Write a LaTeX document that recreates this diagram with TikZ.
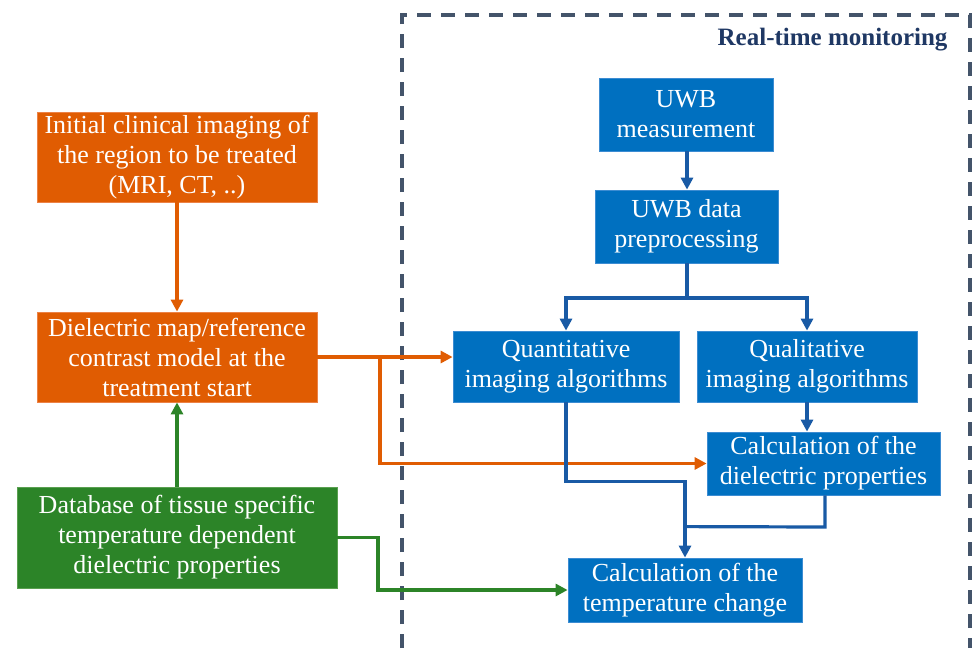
\documentclass[tikz,border=0pt]{standalone}
\usepackage{fontspec}
\setmainfont{Liberation Serif}
\usetikzlibrary{arrows.meta,calc}
\definecolor{ora}{RGB}{224,92,2}
\definecolor{oraedge}{RGB}{236,130,70}
\definecolor{blu}{RGB}{0,112,192}
\definecolor{bluedge}{RGB}{60,140,210}
\definecolor{blline}{RGB}{25,90,165}
\definecolor{grn}{RGB}{44,132,40}
\definecolor{grnedge}{RGB}{90,160,80}
\definecolor{dashcol}{RGB}{68,84,106}
\definecolor{ttl}{RGB}{31,56,100}
\tikzset{
  box/.style={rectangle, inner sep=0pt, align=center, text=white, line width=0.8pt,
    font=\fontsize{26}{30}\selectfont},
  obox/.style={box, fill=ora, draw=oraedge},
  bbox/.style={box, fill=blu, draw=bluedge},
  gbox/.style={box, fill=grn, draw=grnedge},
  conn/.style={line width=3.2pt, -{Triangle[length=12pt,width=12pt]}},
  connn/.style={line width=3.2pt},
}
\begin{document}
\begin{tikzpicture}[x=1pt,y=-1pt]
\useasboundingbox (0,0) rectangle (973,648);
% dashed region
\draw[dashcol, line width=4pt, dash pattern=on 14pt off 10pt] (402,648) -- (402,15) -- (970,15) -- (970,648);
\node[anchor=east, text=ttl, font=\fontsize{25}{28}\selectfont\bfseries] (title) at (951,40) {Real-time monitoring};

% nodes
\node[obox, minimum width=280, minimum height=90] (init) at (177,157) {Initial clinical imaging of\\the region to be treated\\(MRI, CT, ..)};
\node[obox, minimum width=280, minimum height=90] (dmap) at (177,357) {Dielectric map/reference\\contrast model at the\\treatment start};
\node[gbox, minimum width=320, minimum height=101] (db) at (177,537.5) {Database of tissue specific\\temperature dependent\\dielectric properties};
\node[bbox, minimum width=174, minimum height=73] (meas) at (686,114.5) {UWB\\measurement};
\node[bbox, minimum width=183, minimum height=73] (prep) at (686.5,226.5) {UWB data\\preprocessing};
\node[bbox, minimum width=226, minimum height=71] (quant) at (566,366.5) {Quantitative\\imaging algorithms};
\node[bbox, minimum width=220, minimum height=71] (qual) at (807,366.5) {Qualitative\\imaging algorithms};
\node[bbox, minimum width=233, minimum height=63] (cdiel) at (823.5,463.5) {Calculation of the\\dielectric properties};
\node[bbox, minimum width=234, minimum height=64] (ctemp) at (685,590) {Calculation of the\\temperature change};

% orange connectors
\draw[conn, ora] (init.south) -- (dmap.north);
\draw[conn, ora] (dmap.east |- 0,357) -- (quant.west |- 0,357);
\draw[conn, ora] (dmap.east |- 0,357) -- (380,357) |- (cdiel.west);
% green connectors
\draw[conn, grn] (db.north) -- (dmap.south);
\draw[conn, grn] (db.east) -- (378,537.5) |- (ctemp.west);
% blue connectors
\draw[conn, blline] (meas.south -| 687,0) -- (prep.north -| 687,0);
\coordinate (split) at (687,298);
\draw[connn, blline] (prep.south -| 687,0) -- (split);
\draw[conn, blline] (split) -| (quant.north);
\draw[conn, blline] (split) -| (qual.north);
\draw[conn, blline] (qual.south) -- (qual.south |- cdiel.north);
\coordinate (join) at ($(ctemp.north)+(0,-31)$);
\draw[conn, blline] (quant.south) -- ++(0,79) -| (ctemp.north);
\draw[connn, blline] (cdiel.south -| 825,0) -- (825,527) -- (join);
\end{tikzpicture}
\end{document}
